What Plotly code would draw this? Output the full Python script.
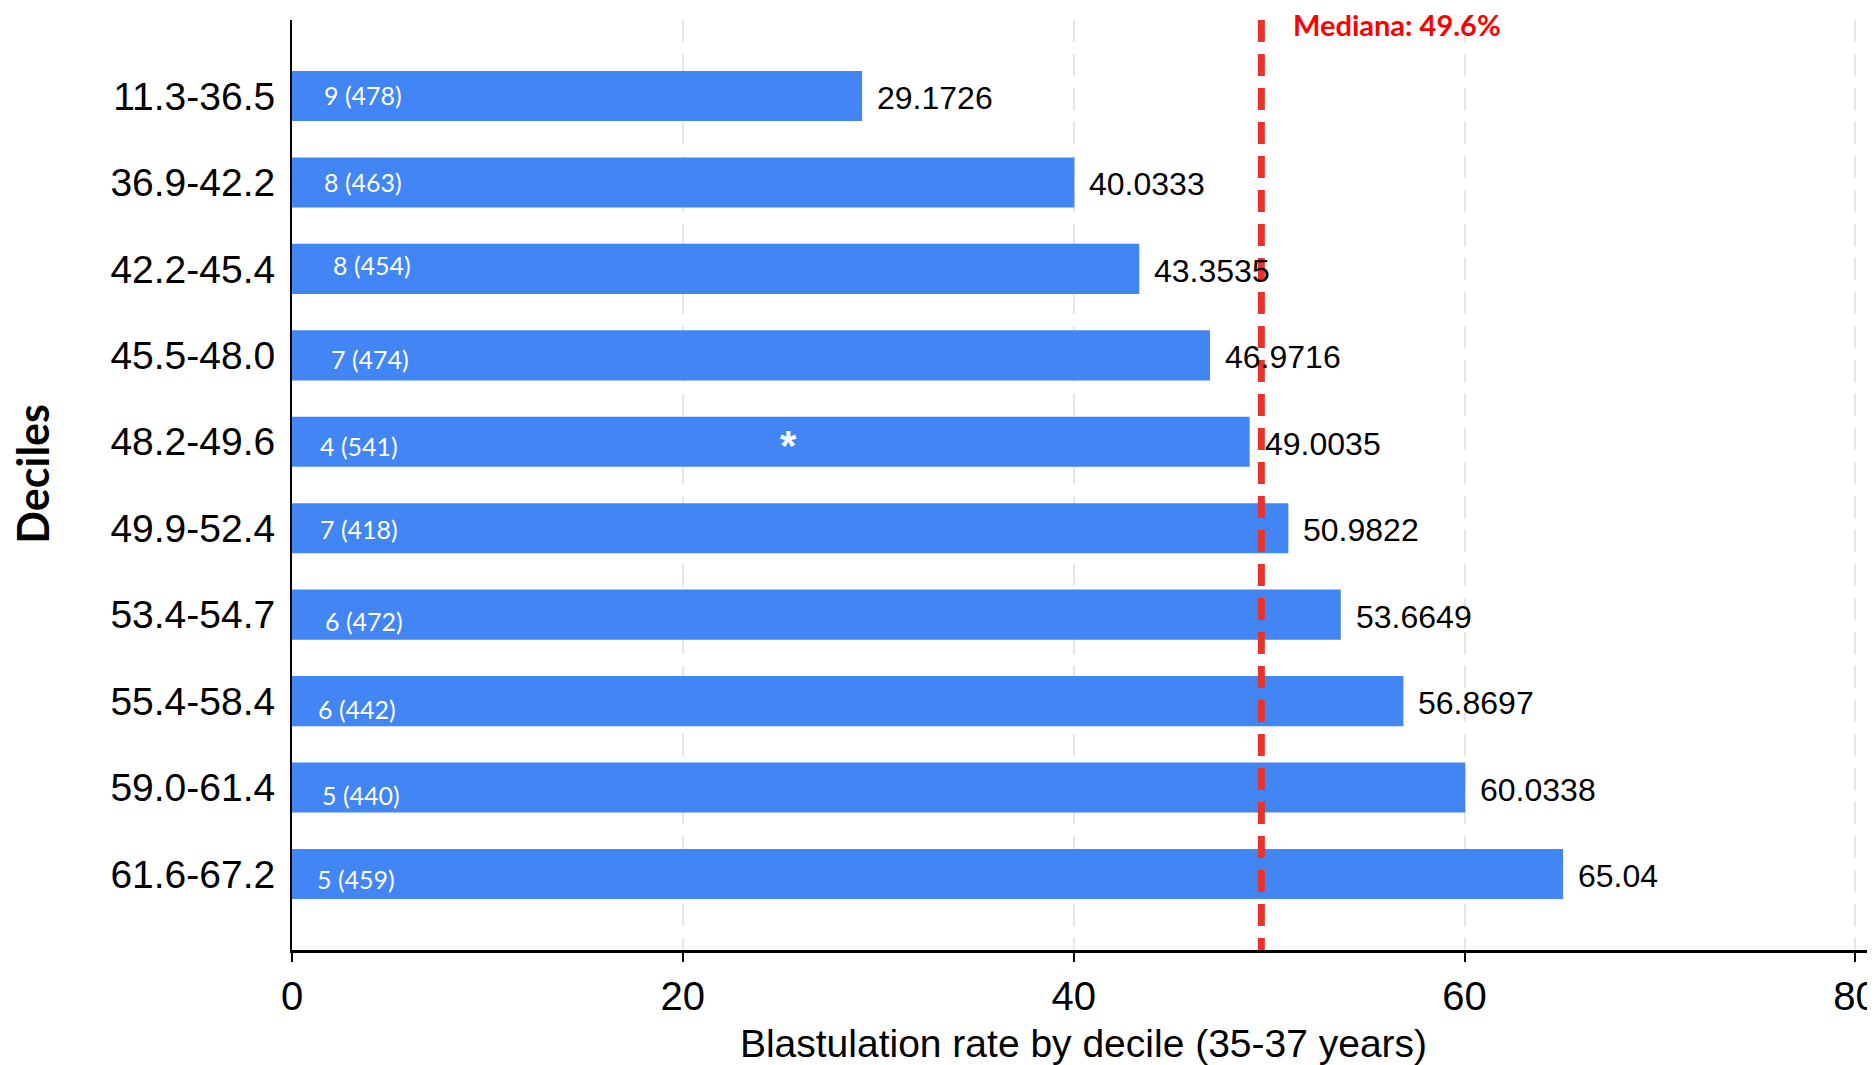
import plotly.graph_objects as go

# ---- data ----
deciles = ["11.3-36.5", "36.9-42.2", "42.2-45.4", "45.5-48.0", "48.2-49.6",
           "49.9-52.4", "53.4-54.7", "55.4-58.4", "59.0-61.4", "61.6-67.2"]
rates = [29.1726, 40.0333, 43.3535, 46.9716, 49.0035,
         50.9822, 53.6649, 56.8697, 60.0338, 65.04]
rate_labels = ["29.1726", "40.0333", "43.3535", "46.9716", "49.0035",
               "50.9822", "53.6649", "56.8697", "60.0338", "65.04"]
inner_labels = ["9 (478)", "8 (463)", "8 (454)", "7 (474)", "4 (541)",
                "7 (418)", "6 (472)", "6 (442)", "5 (440)", "5 (459)"]
median_value = 49.6
median_text = "Mediana: 49.6%"
star_decile = "48.2-49.6"
star_x = 25.4
x_ticks = [0, 20, 40, 60, 80]

# ---- style nudges (pixels) for inner labels ----
inner_xshift = [30, 30, 39, 37, 26, 26, 31, 24, 28, 23]
inner_yshift = [1, 0, 4, -4, -4, -1, -6, -8, -7, -5]

BLUE = "#4285F4"
RED = "#E8322A"

fig = go.Figure()
fig.add_trace(go.Bar(
    x=rates, y=deciles, orientation="h", width=0.58,
    marker=dict(color=BLUE, line=dict(width=0)),
    hoverinfo="x+y",
))

annotations = []
for d, v, t in zip(deciles, rates, rate_labels):
    annotations.append(dict(x=v, y=d, xref="x", yref="y", text=t, showarrow=False,
                            xanchor="left", yanchor="middle", xshift=13, yshift=-2,
                            font=dict(family="Liberation Sans, Arial", size=32, color="black")))
for d, t, xs, ys in zip(deciles, inner_labels, inner_xshift, inner_yshift):
    annotations.append(dict(x=0, y=d, xref="x", yref="y", text=t, showarrow=False,
                            xanchor="left", yanchor="middle", xshift=xs, yshift=ys,
                            font=dict(family="Lato, Open Sans", size=25, color="white")))
annotations.append(dict(x=star_x, y=star_decile, xref="x", yref="y", text="<b>*</b>",
                        showarrow=False, xanchor="center", yanchor="middle", yshift=-4,
                        font=dict(family="Liberation Sans, Arial", size=42, color="white")))
annotations.append(dict(x=median_value, y=1, xref="x", yref="paper", text="<b>" + median_text + "</b>",
                        showarrow=False, xanchor="left", yanchor="middle", xshift=30, yshift=-4,
                        font=dict(family="Lato, Open Sans", size=29, color="#FF0000")))
# y-axis title
annotations.append(dict(x=-0.1642, y=0.5123, xref="paper", yref="paper", text="<b>Deciles</b>",
                        showarrow=False, textangle=-90, xanchor="center", yanchor="middle",
                        font=dict(family="Lato, Open Sans", size=43, color="black")))

fig.add_shape(type="line", x0=median_value, x1=median_value, y0=1, y1=0,
              xref="x", yref="paper", layer="above",
              line=dict(color=RED, width=7, dash="22px,12px"))

fig.update_layout(
    width=1867, height=1057,
    margin=dict(l=284, r=0, t=12, b=115),
    paper_bgcolor="white", plot_bgcolor="white",
    showlegend=False,
    annotations=annotations,
    xaxis=dict(
        range=[0, 81], tickvals=x_ticks, ticktext=[str(t) for t in x_ticks],
        showgrid=True, gridcolor="#E6E6E6", gridwidth=2, griddash="22px,12px",
        zeroline=False, showline=True, linecolor="black", linewidth=3,
        ticks="outside", ticklen=9, tickwidth=2, tickcolor="black",
        ticklabeloverflow="allow",
        tickfont=dict(family="Liberation Sans, Arial", size=40, color="black"),
        title=dict(text="Blastulation rate by decile (35-37 years)", standoff=20,
                   font=dict(family="Liberation Sans, Arial", size=39, color="black")),
        automargin=False,
    ),
    yaxis=dict(
        type="category", categoryorder="array", categoryarray=deciles,
        range=[9.88, -0.88],
        showgrid=False, zeroline=False, showline=True, linecolor="black", linewidth=2,
        ticks="outside", ticklen=7, tickcolor="rgba(0,0,0,0)",
        tickfont=dict(family="Liberation Sans, Arial", size=39, color="black"),
        automargin=False,
    ),
)

fig.write_html("out.html")
